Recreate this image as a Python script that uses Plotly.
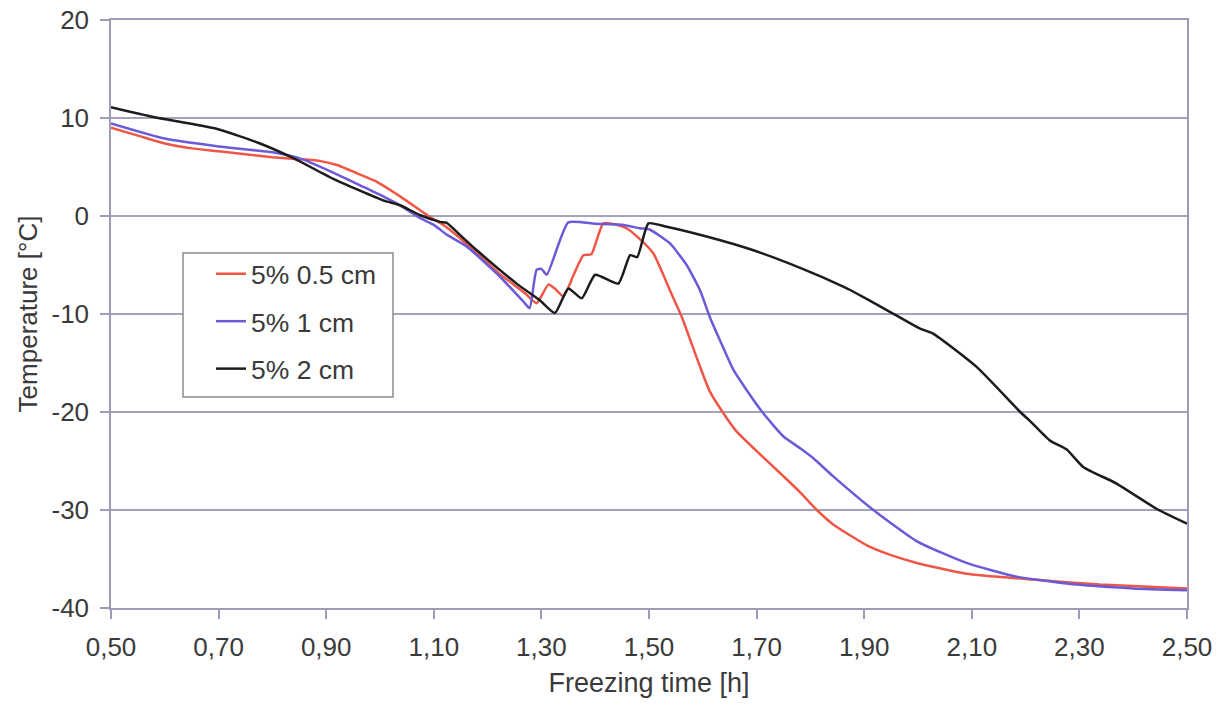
import plotly.graph_objects as go

# ---- data ----
red_x = [0.50, 0.55, 0.60, 0.65, 0.70, 0.75, 0.80, 0.85, 0.89, 0.92, 0.96, 0.99, 1.04, 1.09, 1.12,
         1.16, 1.22, 1.27, 1.291, 1.313, 1.325, 1.341, 1.36, 1.378, 1.393, 1.415, 1.44, 1.458, 1.48,
         1.508, 1.539, 1.561, 1.579, 1.595, 1.613, 1.638, 1.663, 1.712, 1.745, 1.781, 1.812, 1.843,
         1.905, 1.95, 1.998, 2.09, 2.214, 2.338, 2.50]
red_y = [9.0, 8.2, 7.4, 6.9, 6.6, 6.3, 6.0, 5.8, 5.6, 5.2, 4.3, 3.6, 1.9, 0.0, -1.0,
         -2.8, -5.8, -7.9, -8.9, -7.0, -7.4, -8.2, -6.0, -4.0, -3.9, -0.75, -0.9, -1.25, -2.2,
         -3.8, -7.6, -10.3, -13.0, -15.4, -17.9, -20.1, -22.0, -24.6, -26.3, -28.2, -30.0, -31.5,
         -33.6, -34.6, -35.4, -36.5, -37.1, -37.6, -38.0]

blue_x = [0.50, 0.60, 0.70, 0.80, 0.85, 0.91, 0.96, 1.006, 1.04, 1.074, 1.10, 1.124, 1.161, 1.223,
          1.266, 1.278, 1.291, 1.30, 1.31, 1.35, 1.40, 1.45, 1.483, 1.502, 1.539, 1.570, 1.595,
          1.613, 1.632, 1.657, 1.682, 1.712, 1.75, 1.781, 1.805, 1.843, 1.917, 1.998, 2.09, 2.183,
          2.276, 2.40, 2.50]
blue_y = [9.45, 7.9, 7.1, 6.5, 5.9, 4.5, 3.2, 2.0, 1.0, -0.2, -0.9, -1.9, -3.1, -6.2,
          -8.7, -9.4, -5.5, -5.4, -6.0, -0.65, -0.8, -0.9, -1.25, -1.4, -2.8, -5.0, -7.6,
          -10.3, -12.7, -15.7, -17.8, -20.1, -22.5, -23.7, -24.7, -26.6, -30.0, -33.2, -35.4, -36.8,
          -37.5, -38.0, -38.2]

black_x = [0.50, 0.579, 0.696, 0.777, 0.839, 0.913, 1.006, 1.037, 1.074, 1.112, 1.124, 1.15, 1.180,
           1.254, 1.297, 1.325, 1.35, 1.375, 1.40, 1.443, 1.465, 1.478, 1.499, 1.533, 1.607, 1.694,
           1.781, 1.861, 1.874, 1.942, 2.004, 2.028, 2.109, 2.190, 2.208, 2.245, 2.276, 2.307,
           2.369, 2.444, 2.50]
black_y = [11.1, 10.1, 8.9, 7.4, 5.9, 3.8, 1.6, 1.1, 0.1, -0.6, -0.7, -2.0, -3.5,
           -6.9, -8.6, -9.9, -7.4, -8.4, -6.0, -6.9, -4.0, -4.2, -0.75, -1.1, -2.1, -3.5,
           -5.3, -7.2, -7.55, -9.6, -11.5, -12.0, -15.4, -20.0, -20.9, -22.9, -23.8, -25.6,
           -27.3, -29.9, -31.4]

names = ["5% 0.5 cm", "5% 1 cm", "5% 2 cm"]
colors = ["#ef5646", "#6a5bd9", "#1c1c1c"]

x_ticks = [0.50, 0.70, 0.90, 1.10, 1.30, 1.50, 1.70, 1.90, 2.10, 2.30, 2.50]
x_labels = ["0,50", "0,70", "0,90", "1,10", "1,30", "1,50", "1,70", "1,90", "2,10", "2,30", "2,50"]
y_ticks = [-40, -30, -20, -10, 0, 10, 20]
y_labels = ["-40", "-30", "-20", "-10", "0", "10", "20"]

FONT = "Liberation Sans, Arial, sans-serif"
TXT = "#3a3a3a"
AX = "#9c9cb8"

fig = go.Figure()
for xs, ys, nm, c, g in [(red_x, red_y, names[0], colors[0], "a"),
                         (blue_x, blue_y, names[1], colors[1], "b"),
                         (black_x, black_y, names[2], colors[2], "c")]:
    fig.add_trace(go.Scatter(x=xs, y=ys, mode="lines", name=nm, legendgroup=g,
                             line=dict(color=c, width=2.5, shape="spline", smoothing=0.5)))

W, H = 1224, 707
ML, MR, MT, MB = 111, 37, 20, 99
PW, PH = W - ML - MR, H - MT - MB


def px_x(p):
    return (p - ML) / PW


def px_y(p):
    return (H - MB - p) / PH


# legend frame (reference box: 183..393 x 253..397 px)
fig.add_shape(type="rect", xref="paper", yref="paper",
              x0=px_x(183), x1=px_x(393), y0=px_y(397), y1=px_y(253),
              line=dict(color="#8a8a8a", width=1.5), fillcolor="white", layer="above")

fig.update_layout(
    width=W, height=H,
    margin=dict(l=ML, r=MR, t=MT, b=MB, autoexpand=False),
    paper_bgcolor="white", plot_bgcolor="white",
    font=dict(family=FONT, size=26, color=TXT),
    showlegend=True,
    legend=dict(x=px_x(211), y=px_y(250), xanchor="left", yanchor="top",
                bgcolor="rgba(0,0,0,0)", borderwidth=0,
                font=dict(family=FONT, size=26.5, color=TXT),
                tracegroupgap=10, itemwidth=30),
    xaxis=dict(range=[0.5, 2.5], tickvals=x_ticks, ticktext=x_labels, automargin=False,
               showgrid=False, zeroline=False,
               showline=True, linecolor=AX, linewidth=1.5, mirror=True,
               ticks="outside", ticklen=9, tickcolor=AX, tickwidth=1.5,
               ticklabelstandoff=6,
               tickfont=dict(size=26, color=TXT),
               title=dict(text="Freezing time [h]", font=dict(size=27, color=TXT), standoff=12)),
    yaxis=dict(range=[-40, 20], tickvals=y_ticks, ticktext=y_labels, automargin=False,
               showgrid=True, gridcolor="#a3a3bd", gridwidth=1.5, zeroline=False,
               showline=True, linecolor=AX, linewidth=1.5, mirror=True,
               ticks="outside", ticklen=9, tickcolor=AX, tickwidth=1.5,
               ticklabelstandoff=6,
               tickfont=dict(size=26, color=TXT),
               title=dict(text="Temperature [°C]", font=dict(size=26, color=TXT), standoff=6)),
)

fig.write_html("out.html", config={"displayModeBar": False},
               post_script="document.body.style.margin='0px';")
